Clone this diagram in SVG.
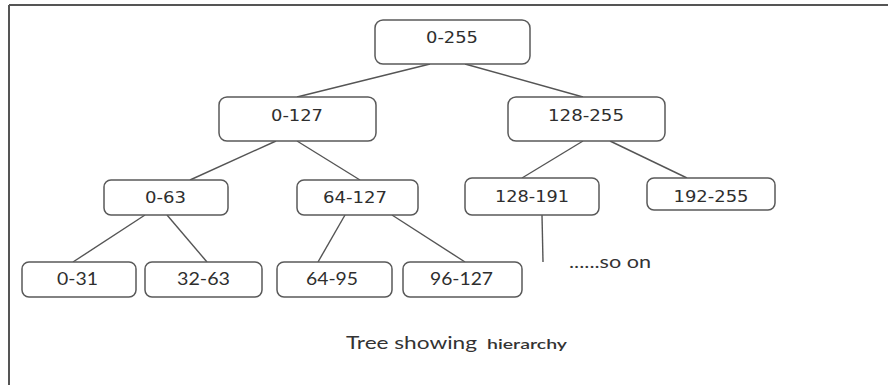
<svg xmlns="http://www.w3.org/2000/svg" width="888" height="385" viewBox="0 0 888 385">
  <style>
    .box { fill: #ffffff; stroke: #595959; stroke-width: 1.5; }
    .edge { stroke: #555555; stroke-width: 1.4; fill: none; }
    .lbl { font-family: "DejaVu Sans", Verdana, sans-serif; font-size: 16px; fill: #2e2e2e; text-anchor: middle; }
    .leaf { font-family: Lato, "Open Sans", sans-serif; font-size: 17px; fill: #2e2e2e; text-anchor: middle; }
    .note { font-family: Lato, "Open Sans", sans-serif; fill: #333333; }
  </style>

  <rect x="0" y="0" width="888" height="385" fill="#ffffff"/>

  <!-- outer frame: top and left rules -->
  <g id="frame">
    <line x1="9" y1="5" x2="888" y2="5" stroke="#555555" stroke-width="2"/>
    <line x1="9" y1="5" x2="9" y2="385" stroke="#555555" stroke-width="2"/>
  </g>

  <!-- tree edges -->
  <g id="connectors">
    <line class="edge" x1="430" y1="64" x2="297" y2="97"/>
    <line class="edge" x1="465" y1="64" x2="583" y2="97"/>
    <line class="edge" x1="276" y1="141" x2="190" y2="180"/>
    <line class="edge" x1="297" y1="141" x2="360" y2="180"/>
    <line class="edge" x1="583" y1="141" x2="522" y2="178"/>
    <line class="edge" x1="610" y1="141" x2="687" y2="178"/>
    <line class="edge" x1="145" y1="215" x2="73" y2="262"/>
    <line class="edge" x1="167" y1="215" x2="207" y2="262"/>
    <line class="edge" x1="345" y1="215" x2="318" y2="262"/>
    <line class="edge" x1="392" y1="215" x2="465" y2="262"/>
    <line class="edge" x1="542" y1="215" x2="543" y2="262"/>
  </g>

  <g id="n0-255">
    <rect class="box" x="375" y="20" width="155" height="44" rx="8"/>
    <text class="lbl" x="452" y="43" textLength="52" lengthAdjust="spacingAndGlyphs">0-255</text>
  </g>
  <g id="n0-127">
    <rect class="box" x="219" y="97" width="157" height="44" rx="8"/>
    <text class="lbl" x="297" y="121" textLength="52" lengthAdjust="spacingAndGlyphs">0-127</text>
  </g>
  <g id="n128-255">
    <rect class="box" x="508" y="97" width="157" height="44" rx="8"/>
    <text class="lbl" x="586" y="121" textLength="76" lengthAdjust="spacingAndGlyphs">128-255</text>
  </g>
  <g id="n0-63">
    <rect class="box" x="104" y="180" width="124" height="35" rx="7"/>
    <text class="lbl" x="165.5" y="203" textLength="41" lengthAdjust="spacingAndGlyphs">0-63</text>
  </g>
  <g id="n64-127">
    <rect class="box" x="297" y="180" width="121" height="35" rx="7"/>
    <text class="lbl" x="355" y="203" textLength="64" lengthAdjust="spacingAndGlyphs">64-127</text>
  </g>
  <g id="n128-191">
    <rect class="box" x="465" y="178" width="134" height="37" rx="7"/>
    <text class="lbl" x="532" y="202" textLength="74" lengthAdjust="spacingAndGlyphs">128-191</text>
  </g>
  <g id="n192-255">
    <rect class="box" x="647" y="178" width="128" height="32" rx="7"/>
    <text class="lbl" x="711" y="202" textLength="75" lengthAdjust="spacingAndGlyphs">192-255</text>
  </g>
  <g id="n0-31">
    <rect class="box" x="22" y="262" width="114" height="35" rx="7"/>
    <text class="leaf" x="77.5" y="285" textLength="41" lengthAdjust="spacingAndGlyphs">0-31</text>
  </g>
  <g id="n32-63">
    <rect class="box" x="145" y="262" width="117" height="35" rx="7"/>
    <text class="leaf" x="203.5" y="285" textLength="53" lengthAdjust="spacingAndGlyphs">32-63</text>
  </g>
  <g id="n64-95">
    <rect class="box" x="277" y="262" width="115" height="35" rx="7"/>
    <text class="leaf" x="332" y="285" textLength="52" lengthAdjust="spacingAndGlyphs">64-95</text>
  </g>
  <g id="n96-127">
    <rect class="box" x="403" y="262" width="119" height="35" rx="7"/>
    <text class="leaf" x="461.5" y="285" textLength="63" lengthAdjust="spacingAndGlyphs">96-127</text>
  </g>

  <g id="so-on">
    <text class="note" x="569" y="268" font-size="17" textLength="82" lengthAdjust="spacingAndGlyphs">......so on</text>
  </g>

  <g id="caption">
    <text class="note" x="346" y="349" font-size="17" textLength="131" lengthAdjust="spacingAndGlyphs">Tree showing</text>
    <text class="note" x="487" y="349" font-size="14" font-weight="600" fill="#222222" textLength="80" lengthAdjust="spacingAndGlyphs">hierarchy</text>
  </g>
</svg>
